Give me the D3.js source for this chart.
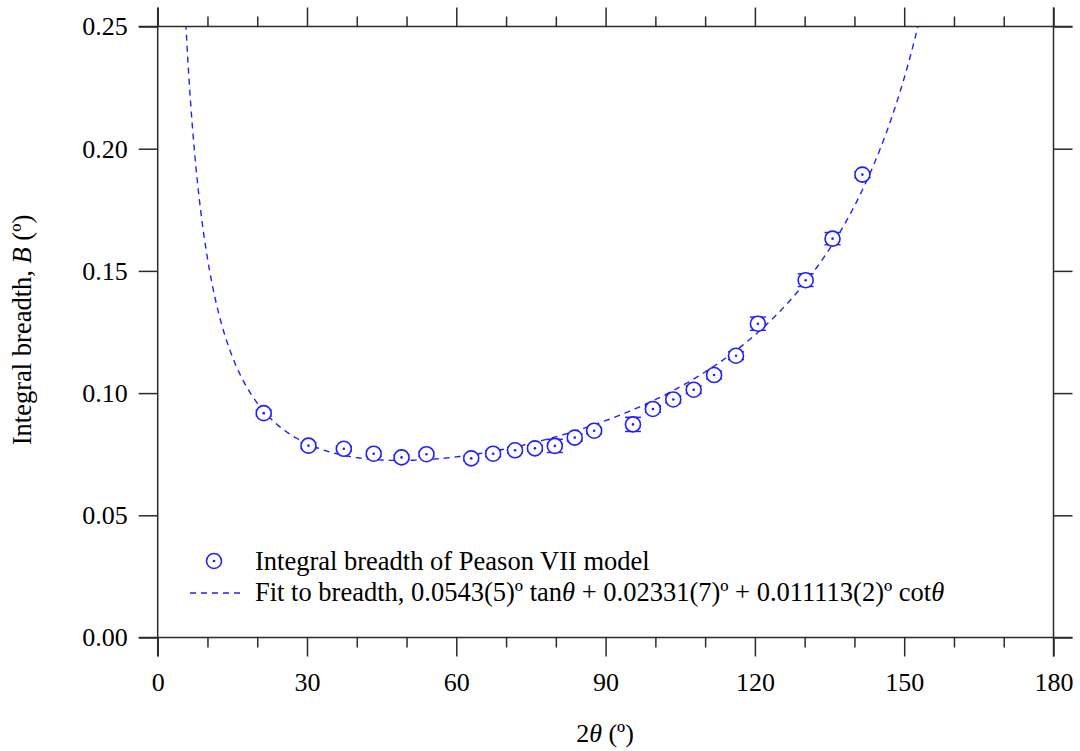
<!DOCTYPE html>
<html>
<head>
<meta charset="utf-8">
<script src="https://cdn.jsdelivr.net/npm/d3@7"></script>
<style>
  html, body { margin: 0; padding: 0; background: #fff; }
  svg { display: block; }
  text { font-family: "Liberation Serif", "Times New Roman", serif; }
</style>
</head>
<body>
<svg id="chart" width="1080" height="751"></svg>
<script>
// Measured integral breadth per reflection (2θ in degrees, B in degrees)
const twoTheta = [21.3, 30.3, 37.4, 43.4, 49.0, 54.0, 63.0, 67.4, 71.8, 75.8, 79.8, 83.8, 87.7, 95.5, 99.5, 103.6, 107.7, 111.8, 116.2, 120.6, 130.2, 135.6, 141.6];
const breadth  = [0.0918, 0.0785, 0.0772, 0.0752, 0.0737, 0.0750, 0.0733, 0.0752, 0.0766, 0.0774, 0.0784, 0.0818, 0.0846, 0.0872, 0.0935, 0.0974, 0.1014, 0.1074, 0.1153, 0.1284, 0.1462, 0.1632, 0.1894];
const breadthErr = [0.0012, 0.0012, 0.0010, 0.0010, 0.0010, 0.0010, 0.0010, 0.0012, 0.0012, 0.0012, 0.0027, 0.0014, 0.0012, 0.0029, 0.0014, 0.0014, 0.0016, 0.0016, 0.0016, 0.0027, 0.0026, 0.0025, 0.0012];

// Fit coefficients: B = a·tanθ + b + c·cotθ
const fitCoef = [0.0543, 0.02331, 0.011113];

const xTicksMajor = [0, 30, 60, 90, 120, 150, 180];
const xTicksMinor = [10, 20, 40, 50, 70, 80, 100, 110, 130, 140, 160, 170];
const yTicks = [0.00, 0.05, 0.10, 0.15, 0.20, 0.25];

const svg = d3.select("#chart");
const L = 157.7, R = 1053.5, T = 26.5, B = 637.5;
const major = 19, minor = 10;
const blue = "#1f1fff";
const axisColor = "#2a2a2a";
const serif = "'Liberation Serif', 'Times New Roman', serif";
const fs = 26;

const x = d3.scaleLinear().domain([0, 180]).range([L, R]);
const y = d3.scaleLinear().domain([0, 0.25]).range([B, T]);

svg.append("defs").append("clipPath").attr("id", "plotclip")
  .append("rect").attr("x", L).attr("y", T).attr("width", R - L).attr("height", B - T);

// Axes (ticks point outward on all four sides)
function styleAxis(g) {
  g.attr("font-family", serif);
  g.select(".domain").remove();
  g.selectAll(".tick line").attr("stroke", axisColor).attr("stroke-width", 1.5);
  g.selectAll(".tick text").attr("fill", "#000").attr("font-size", fs).attr("font-family", serif);
}

svg.append("g").attr("transform", `translate(0,${B})`)
  .call(d3.axisBottom(x).tickValues(xTicksMinor).tickSize(minor).tickFormat(""))
  .call(styleAxis);
svg.append("g").attr("transform", `translate(0,${B})`)
  .call(d3.axisBottom(x).tickValues(xTicksMajor).tickSize(major).tickPadding(16).tickFormat(d3.format("d")))
  .call(styleAxis);
svg.append("g").attr("transform", `translate(0,${T})`)
  .call(d3.axisTop(x).tickValues(xTicksMinor).tickSize(minor).tickFormat(""))
  .call(styleAxis);
svg.append("g").attr("transform", `translate(0,${T})`)
  .call(d3.axisTop(x).tickValues(xTicksMajor).tickSize(major).tickFormat(""))
  .call(styleAxis);
svg.append("g").attr("transform", `translate(${L},0)`)
  .call(d3.axisLeft(y).tickValues(yTicks).tickSize(major).tickPadding(11).tickFormat(d3.format(".2f")))
  .call(styleAxis);
svg.append("g").attr("transform", `translate(${R},0)`)
  .call(d3.axisRight(y).tickValues(yTicks).tickSize(major).tickFormat(""))
  .call(styleAxis);

// Frame lines, extended past the corners by the major tick length
const frame = svg.append("g").attr("stroke", axisColor).attr("stroke-width", 1.5);
frame.append("line").attr("x1", L - major).attr("x2", R + major).attr("y1", B).attr("y2", B);
frame.append("line").attr("x1", L - major).attr("x2", R + major).attr("y1", T).attr("y2", T);
frame.append("line").attr("x1", L).attr("x2", L).attr("y1", T - major).attr("y2", B + major);
frame.append("line").attr("x1", R).attr("x2", R).attr("y1", T - major).attr("y2", B + major);

// Fitted curve
const rad = Math.PI / 180;
const fitFn = t2 => {
  const th = t2 / 2 * rad;
  return fitCoef[0] * Math.tan(th) + fitCoef[1] + fitCoef[2] / Math.tan(th);
};
const fitPts = d3.range(2, 170.01, 0.25).map(t => [t, fitFn(t)]);
svg.append("path")
  .attr("clip-path", "url(#plotclip)")
  .attr("d", d3.line().x(d => x(d[0])).y(d => y(Math.min(d[1], 0.3)))(fitPts))
  .attr("fill", "none").attr("stroke", blue).attr("stroke-width", 1.4)
  .attr("stroke-dasharray", "6,5");

// Data points: error bars underneath white-filled open circles
const pts = twoTheta.map((t, i) => ({ t, b: breadth[i], e: breadthErr[i] }));
const pg = svg.append("g").selectAll("g").data(pts).join("g");
pg.append("line")
  .attr("x1", d => x(d.t)).attr("x2", d => x(d.t))
  .attr("y1", d => y(d.b - d.e)).attr("y2", d => y(d.b + d.e))
  .attr("stroke", blue).attr("stroke-width", 1.2);
[-1, 1].forEach(s => {
  pg.append("line")
    .attr("x1", d => x(d.t) - 8).attr("x2", d => x(d.t) + 8)
    .attr("y1", d => y(d.b + s * d.e)).attr("y2", d => y(d.b + s * d.e))
    .attr("stroke", blue).attr("stroke-width", 1.4);
});
pg.append("circle")
  .attr("cx", d => x(d.t)).attr("cy", d => y(d.b)).attr("r", 7.5)
  .attr("fill", "#fff").attr("stroke", blue).attr("stroke-width", 1.6);
pg.append("circle")
  .attr("cx", d => x(d.t)).attr("cy", d => y(d.b)).attr("r", 1.3)
  .attr("fill", blue);

// Legend
const lg = svg.append("g").attr("font-size", 26.5).attr("font-family", serif);
lg.append("circle").attr("cx", 214).attr("cy", 561).attr("r", 7.5)
  .attr("fill", "none").attr("stroke", blue).attr("stroke-width", 1.6);
lg.append("circle").attr("cx", 214).attr("cy", 561).attr("r", 1.3).attr("fill", blue);
lg.append("text").attr("x", 255).attr("y", 570).text("Integral breadth of Peason VII model");
lg.append("line").attr("x1", 190).attr("x2", 240).attr("y1", 593).attr("y2", 593)
  .attr("stroke", blue).attr("stroke-width", 1.4).attr("stroke-dasharray", "6,5");
const t2 = lg.append("text").attr("x", 255).attr("y", 601);
t2.append("tspan").text("Fit to breadth, 0.0543(5)º tan");
t2.append("tspan").attr("font-style", "italic").text("θ");
t2.append("tspan").text(" + 0.02331(7)º + 0.011113(2)º cot");
t2.append("tspan").attr("font-style", "italic").text("θ");

// Axis titles
const xt = svg.append("text").attr("x", 605).attr("y", 742).attr("text-anchor", "middle")
  .attr("font-size", fs).attr("font-family", serif);
xt.append("tspan").text("2");
xt.append("tspan").attr("font-style", "italic").text("θ");
xt.append("tspan").text(" (º)");

const yt = svg.append("text").attr("transform", "translate(31,330) rotate(-90)")
  .attr("text-anchor", "middle").attr("font-size", 26.5).attr("font-family", serif);
yt.append("tspan").text("Integral breadth, ");
yt.append("tspan").attr("font-style", "italic").text("B");
yt.append("tspan").text(" (º)");
</script>
</body>
</html>
